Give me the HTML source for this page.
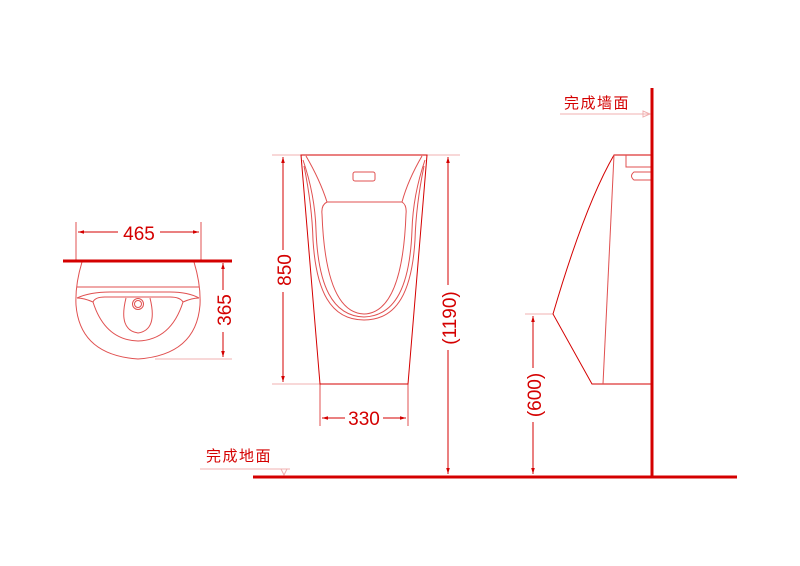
<!DOCTYPE html>
<html><head><meta charset="utf-8"><style>
html,body{margin:0;padding:0;background:#fff;width:800px;height:566px;overflow:hidden}
svg{display:block}
text{font-family:"Liberation Sans","Noto Sans CJK SC",sans-serif;fill:#d40000}
</style></head><body>
<svg width="800" height="566" viewBox="0 0 800 566" xmlns="http://www.w3.org/2000/svg">
<defs>
<marker id="a" viewBox="0 0 10 10" refX="10" refY="5" markerWidth="6" markerHeight="6" orient="auto-start-reverse"><path d="M0,2 L10,5 L0,8z" fill="#d40000"/></marker>
</defs>
<g fill="none" stroke="#e05050" stroke-width="1">
<!-- top view -->
<line x1="76" y1="222" x2="76" y2="262"/><line x1="201" y1="222" x2="201" y2="262"/>
<line x1="78" y1="232" x2="118" y2="232" stroke="#d40000" marker-start="url(#a)"/>
<line x1="160" y1="232" x2="199" y2="232" stroke="#d40000" marker-end="url(#a)"/>
<line x1="155" y1="359" x2="232" y2="359" stroke="#f0b0b0"/>
<line x1="223" y1="263" x2="223" y2="290" stroke="#d40000" marker-start="url(#a)"/>
<line x1="223" y1="332" x2="223" y2="357" stroke="#d40000" marker-end="url(#a)"/>
<path d="M82,262 Q75,285 76,305 Q80,355 138,359 Q196,355 200,305 Q201,285 194,262"/>
<line x1="77" y1="287" x2="199" y2="287"/>
<path d="M77,298 Q90,292 110,292 L170,292 Q188,292 199,298"/>
<path d="M77,298 Q84,298 93,302 Q105,340 138,341 Q171,340 183,302 Q192,298 199,298"/>
<path d="M93,302 Q95,297 105,297 L170,297 Q180,297 183,302"/>
<path d="M126,298 Q118,330 138,333 Q158,330 150,298"/>
<circle cx="138" cy="304" r="5.5"/><circle cx="138" cy="304" r="3.5"/>
<!-- front view -->
<line x1="272" y1="155" x2="460" y2="155" stroke="#f0b0b0"/>
<line x1="272" y1="384" x2="320" y2="384" stroke="#f0b0b0"/>
<line x1="283" y1="157" x2="283" y2="250" stroke="#d40000" marker-start="url(#a)"/>
<line x1="283" y1="292" x2="283" y2="382" stroke="#d40000" marker-end="url(#a)"/>
<line x1="448" y1="157" x2="448" y2="285" stroke="#d40000" marker-start="url(#a)"/>
<line x1="448" y1="350" x2="448" y2="474" stroke="#d40000" marker-end="url(#a)"/>
<line x1="320" y1="384" x2="320" y2="426"/><line x1="408" y1="384" x2="408" y2="426"/>
<line x1="322" y1="418" x2="345" y2="418" stroke="#d40000" marker-start="url(#a)"/>
<line x1="383" y1="418" x2="406" y2="418" stroke="#d40000" marker-end="url(#a)"/>
<path d="M301,155 L427,155 L408,384 L320,384 Z" stroke="#d40000"/>
<rect x="353" y="172" width="22" height="9" rx="2"/>
<path d="M306,156 Q320,180 327,202 L402,202 Q408,180 422,156"/>
<path d="M327,202 Q321,205 322,214 C324,270 335,313 364,314 C393,313 404,270 406,214 Q407,205 402,202"/>
<path d="M303,160 Q315,195 316,230 C318,285 332,316 364,317 C396,316 410,285 412,230 Q413,195 425,160"/>
<path d="M304,166 Q312,205 313,240 C316,290 330,320 364,320 C398,320 412,290 415,240 Q416,205 424,166"/>
<!-- side view -->
<line x1="560" y1="114" x2="650" y2="114" stroke="#f0b0b0"/>
<path d="M643,111 L650,114 L643,117 Z" stroke="#f0b0b0"/>
<line x1="200" y1="469" x2="290" y2="469" stroke="#f0b0b0"/>
<path d="M281,469 L284,475 L287,469" stroke="#f0b0b0"/>
<line x1="525" y1="314" x2="553" y2="314" stroke="#f0b0b0"/>
<line x1="533" y1="316" x2="533" y2="368" stroke="#d40000" marker-start="url(#a)"/>
<line x1="533" y1="422" x2="533" y2="474" stroke="#d40000" marker-end="url(#a)"/>
<path d="M652,155 L614,155 Q585,205 553,314 L592,384 L652,384" stroke="#d40000"/>
<line x1="614" y1="155" x2="603" y2="384"/>
<path d="M626,155 L626,167 L652,167"/>
<path d="M652,172 L634,172 Q629,176 634,180 L652,180"/>
</g>
<line x1="63" y1="261" x2="232" y2="261" stroke="#d40000" stroke-width="3"/>
<line x1="652" y1="88" x2="652" y2="477" stroke="#d40000" stroke-width="3"/>
<line x1="253" y1="477" x2="737" y2="477" stroke="#d40000" stroke-width="3"/>
<text x="139" y="240" font-size="19" text-anchor="middle">465</text>
<text x="364" y="425" font-size="19" text-anchor="middle">330</text>
<text transform="translate(231,310) rotate(-90)" font-size="19" text-anchor="middle">365</text>
<text transform="translate(291,270) rotate(-90)" font-size="19" text-anchor="middle">850</text>
<text transform="translate(456,318) rotate(-90)" font-size="19" text-anchor="middle">(1190)</text>
<text transform="translate(541,395) rotate(-90)" font-size="19" text-anchor="middle">(600)</text>
<text x="564" y="108" font-size="15" letter-spacing="1.5">完成墙面</text>
<text x="206" y="461" font-size="15" letter-spacing="1.5">完成地面</text>
</svg>
</body></html>
